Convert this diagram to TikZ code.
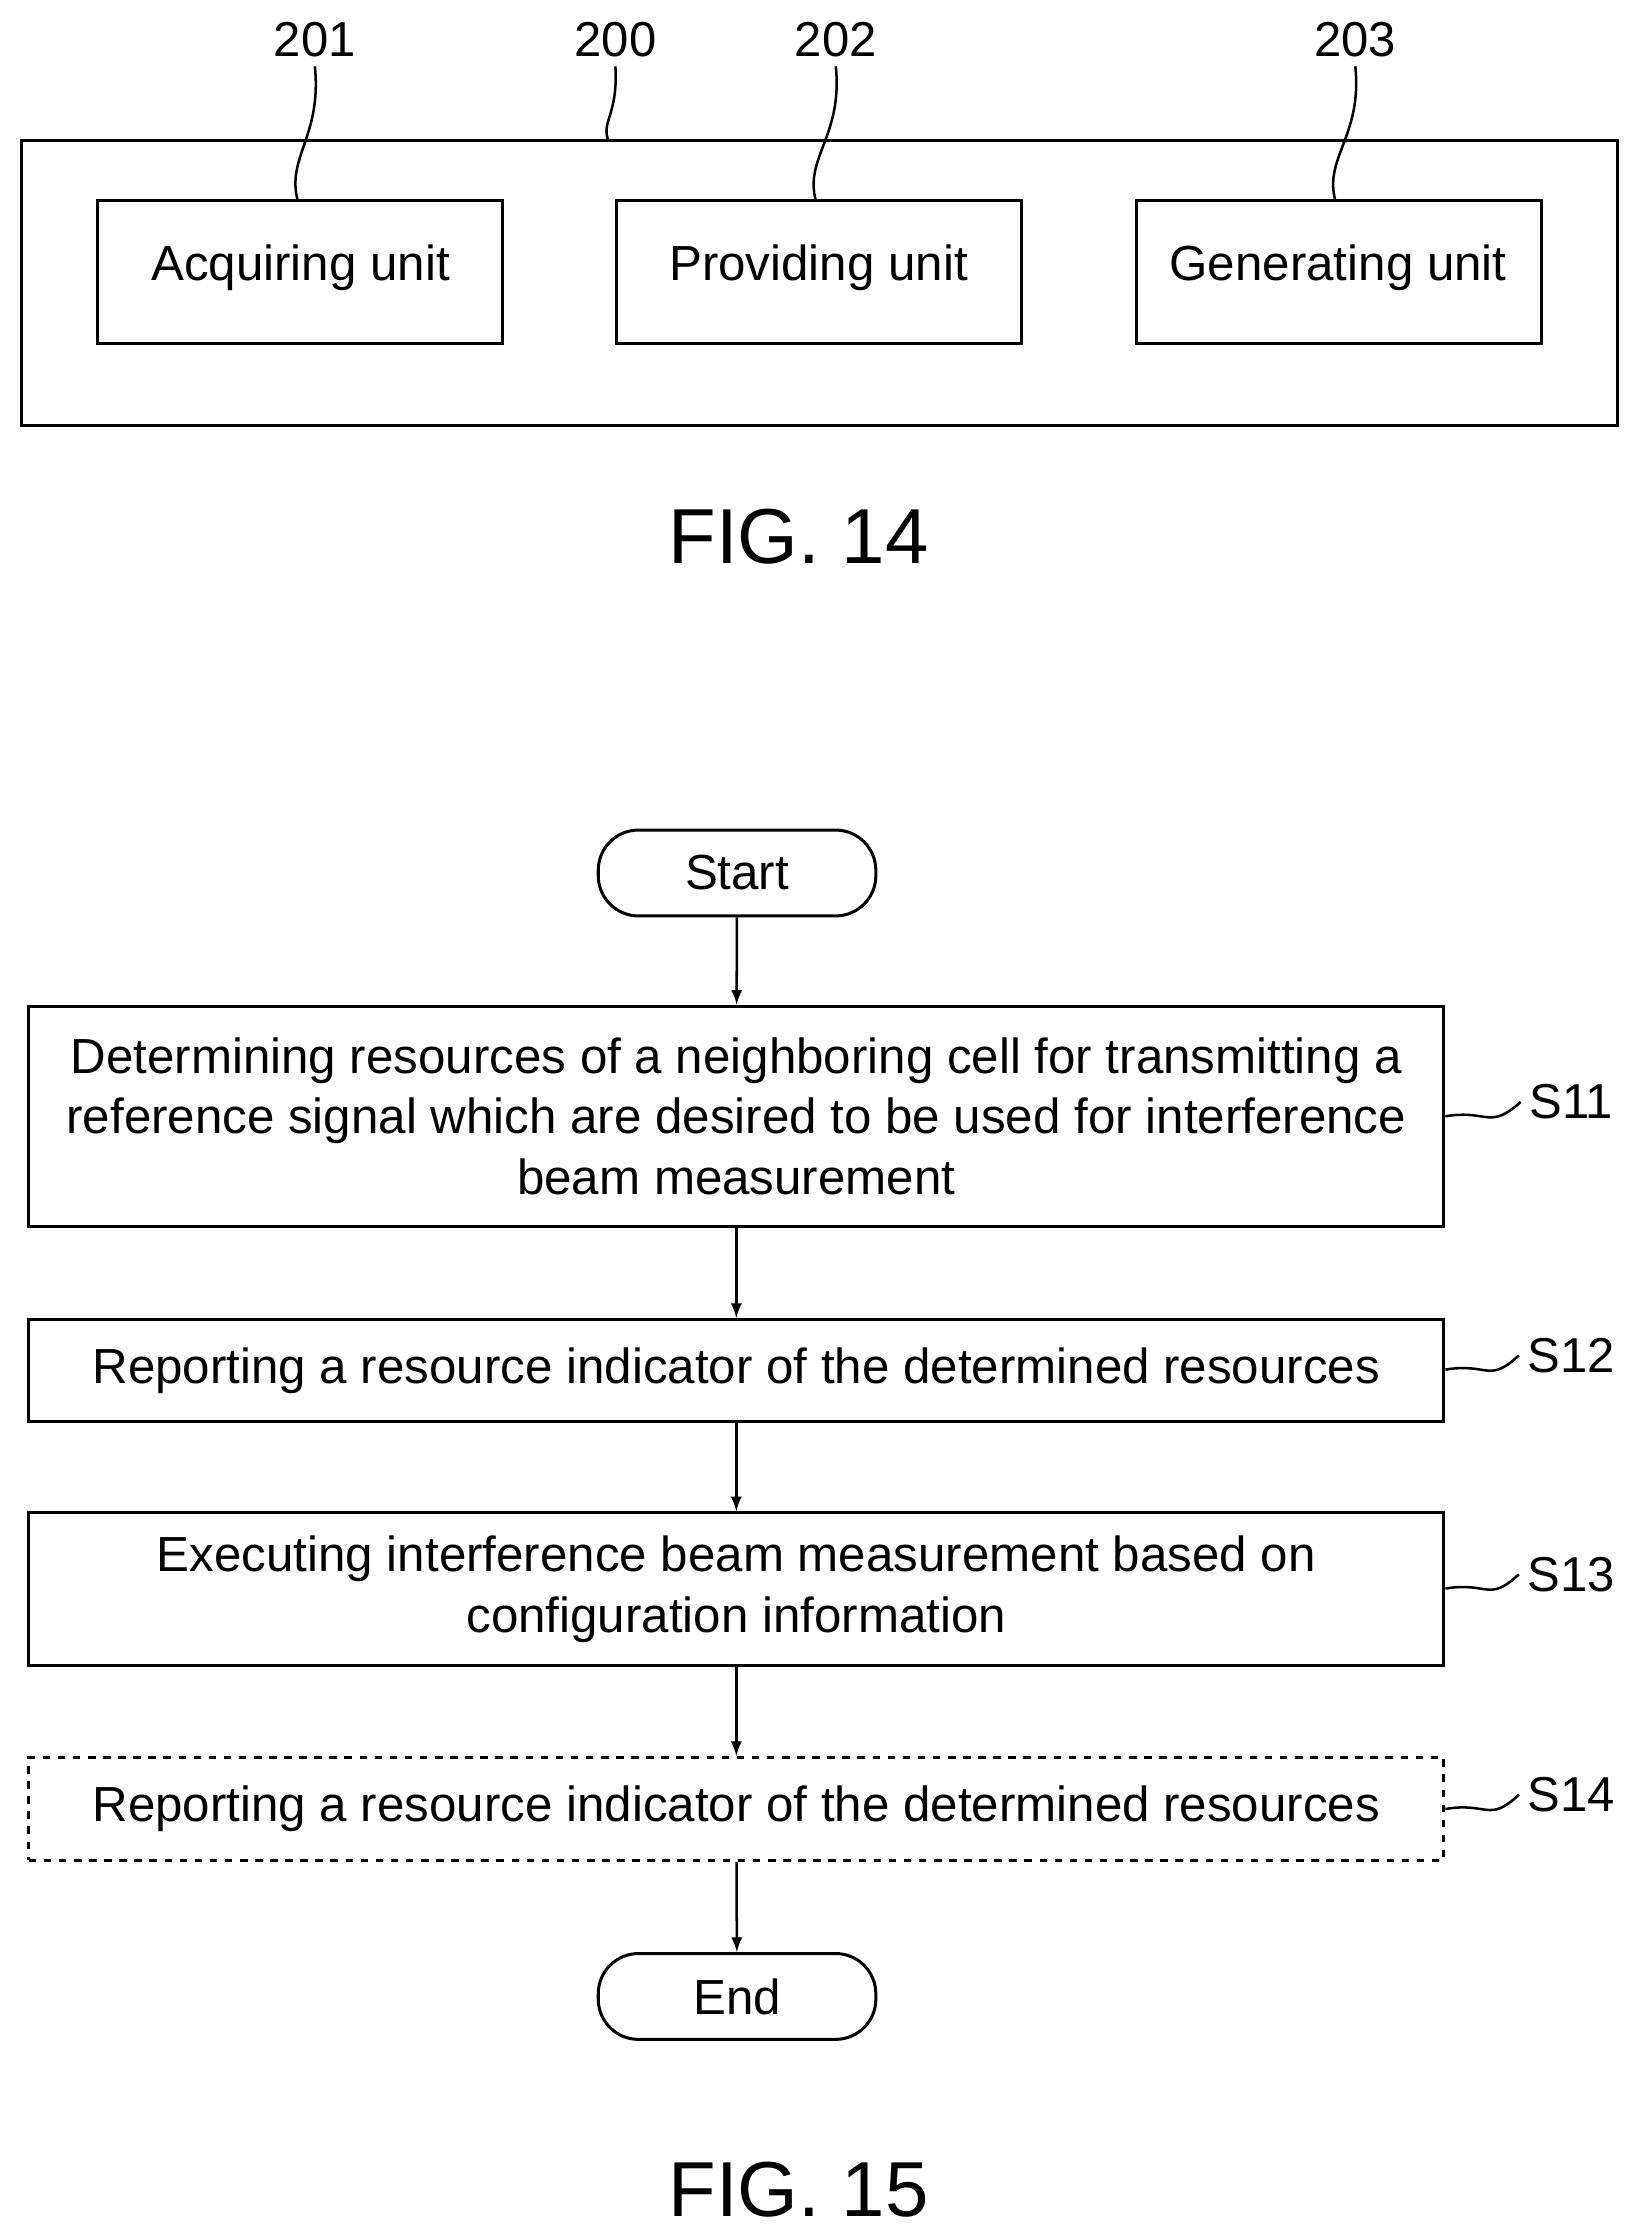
\documentclass[tikz,border=0pt]{standalone}
\usepackage{fontspec}
\setmainfont{Liberation Sans}
\begin{document}
\begin{tikzpicture}[x=0.02cm,y=-0.02cm,
 box/.style={draw,line width=1.2pt,minimum height=0pt,inner sep=0pt},
 txt/.style={font=\fontsize{19.6}{24}\selectfont,align=center},
 lbl/.style={font=\fontsize{19.5}{23}\selectfont},
 fig/.style={font=\fontsize{31}{35}\selectfont},
 arr/.style={-latex,line width=1pt},
 lead/.style={line width=1pt}]
\useasboundingbox (0,0) rectangle (1140,1561);
% FIG 14
\draw[box] (15,98) rectangle (1130,297);
\coordinate (outtop) at (425,98);
\draw[box] (68,140) rectangle (351,240); \node[txt] (a) at (210,187) {Acquiring unit};
\draw[box] (431,140) rectangle (714,240); \node[txt] (p) at (572,187) {Providing unit};
\draw[box] (794,140) rectangle (1077,240); \node[txt] (g) at (935,187) {Generating unit};
\node[lbl] (l201) at (220,28) {201};
\node[lbl] (l200) at (430,28) {200};
\node[lbl] (l202) at (584,28) {202};
\node[lbl] (l203) at (947,28) {203};
\draw[lead] (l201.south) .. controls (225,95) and (200,110) .. (208,140);
\draw[lead] (l200.south) .. controls (432,80) and (420,85) .. (outtop);
\draw[lead] (l202.south) .. controls (589,95) and (562,110) .. (570,140);
\draw[lead] (l203.south) .. controls (952,95) and (925,110) .. (933,140);
\node[fig] (f14) at (558,375) {FIG. 14};
% FIG 15
\node[draw,line width=1.2pt,rounded corners=16pt,minimum width=3.88cm,minimum height=1.2cm,txt] (start) at (515,610) {Start};
\node[box,txt,minimum width=19.78cm,minimum height=3.08cm] (s11) at (514.5,780) {Determining resources of a neighboring cell for transmitting a\\reference signal which are desired to be used for interference\\beam measurement};
\node[box,txt,minimum width=19.78cm,minimum height=1.42cm] (s12) at (514.5,957.5) {Reporting a resource indicator of the determined resources};
\node[box,txt,minimum width=19.78cm,minimum height=2.14cm] (s13) at (514.5,1110.5) {Executing interference beam measurement based on\\configuration information};
\node[box,dashed,txt,minimum width=19.78cm,minimum height=1.44cm] (s14) at (514.5,1264) {Reporting a resource indicator of the determined resources};
\node[draw,line width=1.2pt,rounded corners=16pt,minimum width=3.88cm,minimum height=1.2cm,txt] (end) at (515,1395) {End};
\draw[arr] (start) -- (s11);
\draw[arr] (s11) -- (s12);
\draw[arr] (s12) -- (s13);
\draw[arr] (s13) -- (s14);
\draw[arr] (s14) -- (end);
\node[lbl] (t11) at (1098,770) {S11};
\node[lbl] (t12) at (1098,947) {S12};
\node[lbl] (t13) at (1098,1100) {S13};
\node[lbl] (t14) at (1098,1254) {S14};
\foreach \s/\y in {11/780,12/957,13/1110,14/1264}{
 \draw[lead] (s\s.east |- 0,\y) .. controls (1040,\y-5) and (1040,\y+10) .. (t\s.west);
}
\node[fig] (f15) at (558,1530) {FIG. 15};
\end{tikzpicture}
\end{document}
